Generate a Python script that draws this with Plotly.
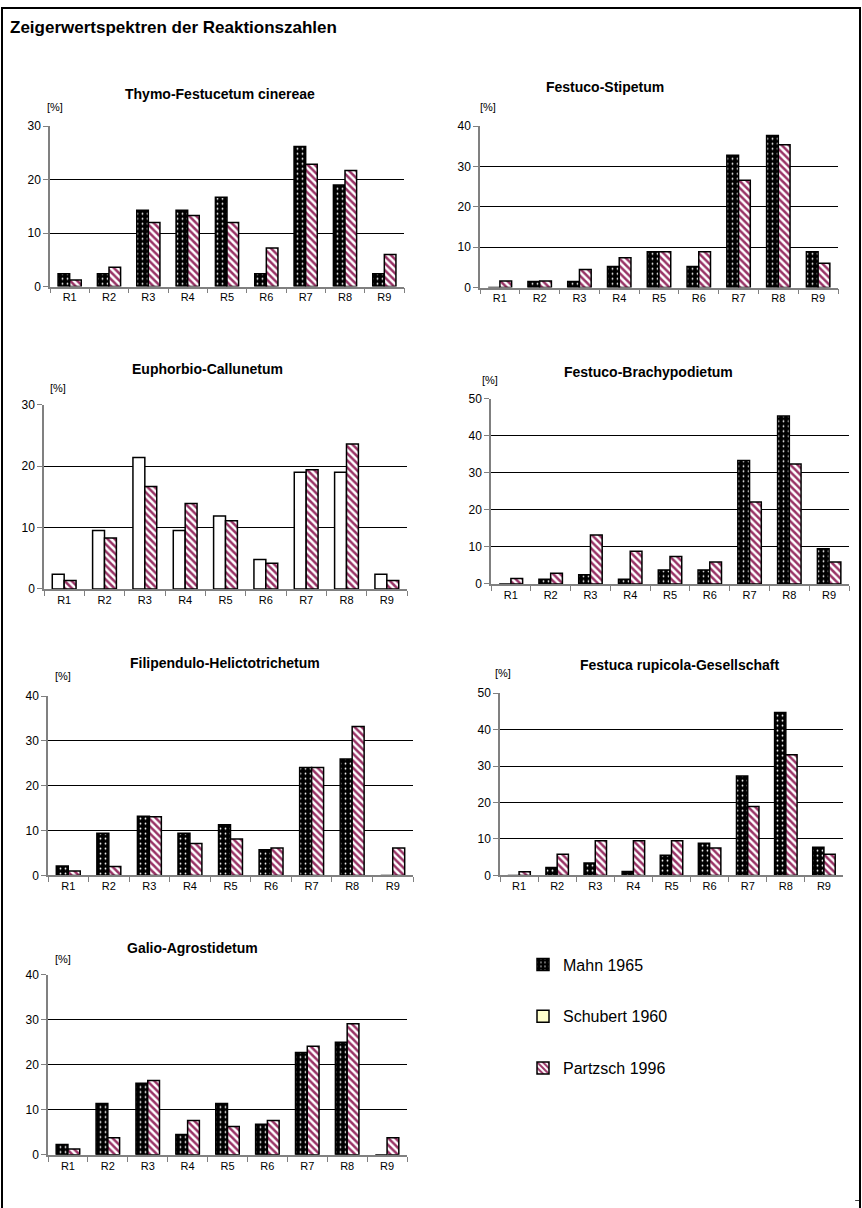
import plotly.graph_objects as go

W, H = 862, 1208

categories = ["R1", "R2", "R3", "R4", "R5", "R6", "R7", "R8", "R9"]
main_title = "Zeigerwertspektren der Reaktionszahlen"
panel_titles = [
    "Thymo-Festucetum cinereae",
    "Festuco-Stipetum",
    "Euphorbio-Callunetum",
    "Festuco-Brachypodietum",
    "Filipendulo-Helictotrichetum",
    "Festuca rupicola-Gesellschaft",
    "Galio-Agrostidetum",
]
series_names = ["Mahn 1965", "Schubert 1960", "Partzsch 1996"]

mahn_thymo = [2.4, 2.4, 14.3, 14.3, 16.7, 2.4, 26.2, 19.0, 2.4]
partzsch_thymo = [1.2, 3.6, 12.0, 13.3, 12.0, 7.2, 22.9, 21.7, 6.0]
mahn_stipetum = [0, 1.5, 1.5, 5.2, 8.9, 5.2, 32.8, 37.7, 8.9]
partzsch_stipetum = [1.6, 1.6, 4.5, 7.4, 8.9, 8.9, 26.6, 35.4, 6.0]
schubert_calluna = [2.4, 9.5, 21.4, 9.5, 11.9, 4.8, 19.0, 19.0, 2.4]
partzsch_calluna = [1.4, 8.3, 16.7, 13.9, 11.1, 4.2, 19.4, 23.6, 1.4]
mahn_brachy = [0, 1.3, 2.5, 1.3, 3.8, 3.8, 33.3, 45.3, 9.5]
partzsch_brachy = [1.5, 2.9, 13.2, 8.8, 7.4, 5.9, 22.1, 32.4, 5.9]
mahn_helicto = [2.1, 9.4, 13.2, 9.4, 11.3, 5.7, 24.1, 26.0, 0]
partzsch_helicto = [1.0, 2.0, 13.1, 7.1, 8.1, 6.1, 24.1, 33.2, 6.1]
mahn_rupicola = [0, 2.2, 3.4, 1.1, 5.5, 8.8, 27.3, 44.7, 7.7]
partzsch_rupicola = [1.0, 5.8, 9.5, 9.5, 9.5, 7.5, 18.9, 33.1, 5.8]
mahn_galio = [2.3, 11.4, 15.9, 4.5, 11.4, 6.8, 22.7, 25.0, 0]
partzsch_galio = [1.3, 3.8, 16.5, 7.6, 6.3, 7.6, 24.1, 29.1, 3.8]

y_max = [30, 40, 30, 50, 40, 50, 40]

panels = [
    ("Mahn 1965", mahn_thymo, partzsch_thymo),
    ("Mahn 1965", mahn_stipetum, partzsch_stipetum),
    ("Schubert 1960", schubert_calluna, partzsch_calluna),
    ("Mahn 1965", mahn_brachy, partzsch_brachy),
    ("Mahn 1965", mahn_helicto, partzsch_helicto),
    ("Mahn 1965", mahn_rupicola, partzsch_rupicola),
    ("Mahn 1965", mahn_galio, partzsch_galio),
]

# target pixel geometry (x0, x1, ytop, ybottom)
boxes = [
    (50, 404, 127, 287),
    (480, 838, 127, 288),
    (44, 407, 405, 589),
    (491, 849, 399, 584),
    (48, 413, 696, 875),
    (500, 843, 693, 875),
    (48, 407, 974, 1154),
]
title_pos = [(220, 95), (605, 88), (207, 369), (648, 372), (225, 663), (680, 665), (192, 947)]
pct_pos = [(55, 108), (488, 108), (58, 388), (490, 380), (63, 676), (503, 673), (63, 958)]


def py(y):
    """target screen pixel row -> paper fraction (calibrated to the capture)."""
    d = y * 1224.0 / 1208.0 - 8.0
    d = max(0.5, min(H - 0.5, d))
    return 1 - d / H


def pxf(x):
    return x / W


FONT = "Liberation Sans, Arial, sans-serif"
PURPLE = "#993366"

styles = {
    "Mahn 1965": dict(color="black", pattern=dict(shape=".", fgcolor="white", bgcolor="black",
                                                   size=5, solidity=0.1, fillmode="replace")),
    "Schubert 1960": dict(color="white"),
    "Partzsch 1996": dict(color="white", pattern=dict(shape="\\", fgcolor=PURPLE, bgcolor="white",
                                                       size=5, solidity=0.5, fillmode="replace")),
}

fig = go.Figure()
legend_done = set()
for i, (first_name, first_vals, partzsch_vals) in enumerate(panels):
    ax = "" if i == 0 else str(i + 1)
    for name, vals in ((first_name, first_vals), ("Partzsch 1996", partzsch_vals)):
        show = name not in legend_done and name != "Schubert 1960"
        if show:
            legend_done.add(name)
        fig.add_trace(go.Bar(
            x=categories, y=vals, name=name,
            xaxis="x" + ax, yaxis="y" + ax,
            marker=dict(line=dict(color="black", width=1.5), **styles[name]),
            showlegend=show, legendgroup=name,
            legendrank={"Mahn 1965": 1, "Schubert 1960": 2, "Partzsch 1996": 3}[name],
        ))

fig.add_trace(go.Bar(
    x=[categories[0]], y=[0], name="Schubert 1960", xaxis="x8", yaxis="y8",
    marker=dict(color="#FFFFCC", line=dict(color="black", width=1.5)),
    showlegend=True, legendgroup="Schubert 1960", legendrank=2,
))

layout = dict(
    width=W, height=H, margin=dict(l=0, r=0, t=0, b=0),
    paper_bgcolor="white", plot_bgcolor="white",
    barmode="group", bargap=0.41, bargroupgap=0,
    font=dict(family=FONT, color="black", size=12),
    showlegend=True,
    legend=dict(x=pxf(523), y=py(947), xanchor="left", yanchor="top",
                font=dict(family=FONT, size=16, color="black"),
                tracegroupgap=28, traceorder="grouped", bgcolor="rgba(0,0,0,0)",
                itemwidth=30),
)

annotations = []
for i, (x0, x1, yt, yb) in enumerate(boxes):
    ax = "" if i == 0 else str(i + 1)
    layout["xaxis" + ax] = dict(
        domain=[pxf(x0), pxf(x1)], anchor="y" + ax,
        showline=True, linecolor="#808080", linewidth=1.5,
        ticks="outside", ticklen=5, tickcolor="#808080", tickson="boundaries",
        tickfont=dict(size=11, family=FONT), showgrid=False, fixedrange=True,
    )
    layout["yaxis" + ax] = dict(
        domain=[py(yb), py(yt)], anchor="x" + ax,
        range=[0, y_max[i]], dtick=10, tick0=0,
        showline=True, linecolor="#808080", linewidth=1.5,
        ticks="outside", ticklen=5, tickcolor="#808080",
        showgrid=True, gridcolor="black", gridwidth=1, zeroline=False,
        tickfont=dict(size=12, family=FONT), fixedrange=True,
    )
    tx, ty = title_pos[i]
    annotations.append(dict(text="<b>" + panel_titles[i] + "</b>", x=pxf(tx), y=py(ty),
                            xref="paper", yref="paper", showarrow=False,
                            xanchor="center", yanchor="middle",
                            font=dict(size=14, family=FONT, color="black")))
    ppx, ppy = pct_pos[i]
    annotations.append(dict(text="[%]", x=pxf(ppx), y=py(ppy), xref="paper", yref="paper",
                            showarrow=False, xanchor="center", yanchor="middle",
                            font=dict(size=11, family=FONT, color="black")))

layout["xaxis8"] = dict(domain=[0.99, 1.0], anchor="y8", visible=False)
layout["yaxis8"] = dict(domain=[0.0, 0.01], anchor="x8", visible=False, range=[0, 1])

annotations.append(dict(text="<b>" + main_title + "</b>", x=pxf(8), y=py(28),
                        xref="paper", yref="paper", showarrow=False,
                        xanchor="left", yanchor="middle",
                        font=dict(size=17, family=FONT, color="black")))
layout["annotations"] = annotations
layout["shapes"] = [
    dict(type="rect", xref="paper", yref="paper", x0=pxf(2), x1=pxf(860),
         y0=-0.02, y1=1 - 1 / H, line=dict(color="black", width=2)),
]

fig.update_layout(**layout)
fig.write_html(
    "out.html",
    config={"displayModeBar": False},
    post_script=(
        "document.documentElement.style.margin='0';"
        "document.body.style.margin='0';document.body.style.padding='0';"
        "var d=document.getElementById('{plot_id}');"
        "d.style.position='fixed';d.style.top='0px';d.style.left='0px';"
    ),
)
